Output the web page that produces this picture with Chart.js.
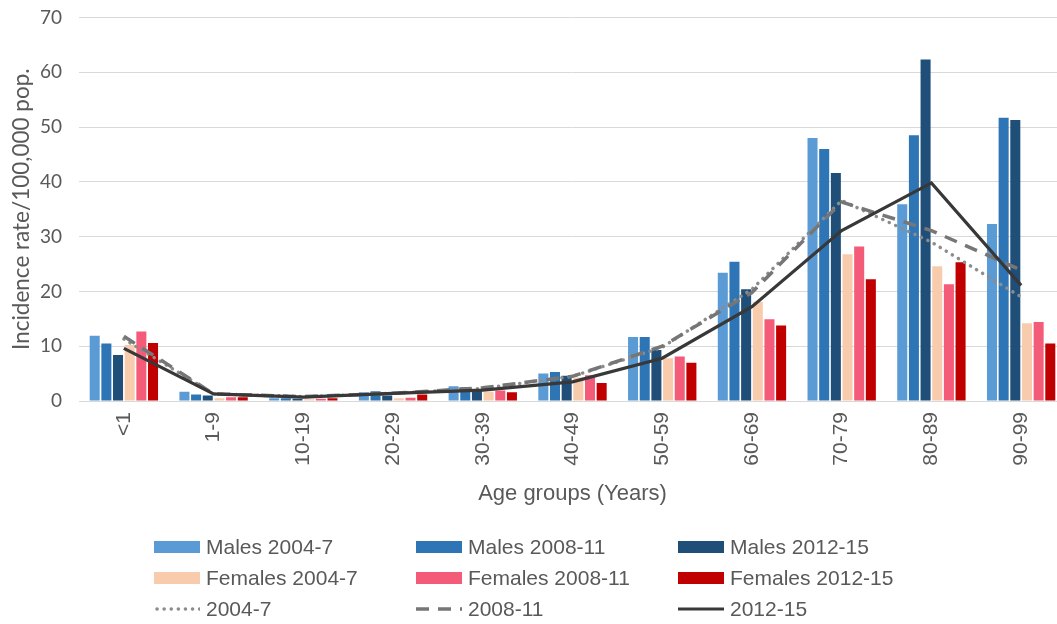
<!DOCTYPE html>
<html>
<head>
<meta charset="utf-8">
<script src="https://cdn.jsdelivr.net/npm/chart.js@4.4.1/dist/chart.umd.min.js"></script>
<style>
  html, body { margin: 0; padding: 0; background: #fff; overflow: hidden; width: 1057px; height: 624px; }
  #wrap { position: absolute; left: 0; top: -11px; width: 1075px; height: 520px; }
  #legend { position: absolute; left: 0; top: 0; width: 1057px; height: 624px; pointer-events: none; }
  .item { position: absolute; display: flex; align-items: center; height: 30px; font-family: "Liberation Sans", Arial, sans-serif; font-size: 21px; color: #595959; white-space: nowrap; }
  .sw { width: 46px; height: 12px; margin-right: 6px; }
</style>
</head>
<body>
<div id="wrap"><canvas id="c" width="1075" height="520"></canvas></div>
<div id="legend"></div>
<script>
const categories = ['<1','1-9','10-19','20-29','30-39','40-49','50-59','60-69','70-79','80-89','90-99'];
const males2004 = [11.9, 1.7, 0.5, 1.6, 2.7, 5.0, 11.7, 23.4, 48.0, 35.9, 32.3];
const males2008 = [10.5, 1.2, 0.5, 1.8, 2.5, 5.3, 11.7, 25.4, 46.0, 48.5, 51.7];
const males2012 = [8.4, 1.0, 0.4, 1.0, 2.1, 4.6, 9.3, 20.4, 41.6, 62.3, 51.3];
const females2004 = [10.2, 0.5, 0.3, 0.5, 1.7, 4.3, 7.8, 18.1, 26.8, 24.6, 14.2];
const females2008 = [12.7, 0.7, 0.4, 0.6, 1.9, 4.7, 8.1, 14.9, 28.2, 21.3, 14.4];
const females2012 = [10.6, 0.7, 0.5, 1.2, 1.6, 3.3, 7.0, 13.8, 22.2, 25.3, 10.5];
const total2004 = [11.3, 1.3, 0.8, 1.4, 2.3, 4.5, 9.8, 20.4, 36.6, 29.0, 19.0];
const total2008 = [11.8, 1.3, 0.8, 1.4, 2.4, 4.5, 10.0, 19.8, 36.3, 31.1, 23.9];
const total2012 = [9.6, 1.3, 0.7, 1.4, 2.0, 3.5, 7.8, 17.2, 31.1, 39.8, 21.1];
const yTicks = [0, 10, 20, 30, 40, 50, 60, 70];

const barCommon = { type: 'bar', order: 3, barPercentage: 0.86, categoryPercentage: 0.78, borderWidth: 0 };
const datasets = [
  { ...barCommon, label: 'Males 2004-7', data: males2004, backgroundColor: '#5B9BD5' },
  { ...barCommon, label: 'Males 2008-11', data: males2008, backgroundColor: '#2E75B6' },
  { ...barCommon, label: 'Males 2012-15', data: males2012, backgroundColor: '#1F4E79' },
  { ...barCommon, label: 'Females 2004-7', data: females2004, backgroundColor: '#F8CBAD' },
  { ...barCommon, label: 'Females 2008-11', data: females2008, backgroundColor: '#F45B78' },
  { ...barCommon, label: 'Females 2012-15', data: females2012, backgroundColor: '#C00000' },
  { type: 'line', order: 2, label: '2004-7', data: total2004, borderColor: '#8C8C8C', borderWidth: 3.5, borderDash: [0.1, 7], borderCapStyle: 'round', pointRadius: 0, tension: 0, fill: false },
  { type: 'line', order: 1, label: '2008-11', data: total2008, borderColor: '#767676', borderWidth: 3.5, borderDash: [13, 9], borderCapStyle: 'butt', pointRadius: 0, tension: 0, fill: false },
  { type: 'line', order: 0, label: '2012-15', data: total2012, borderColor: '#383838', borderWidth: 3.2, pointRadius: 0, tension: 0, fill: false }
];

const chart = new Chart(document.getElementById('c'), {
  data: { labels: categories, datasets },
  options: {
    responsive: false,
    animation: false,
    devicePixelRatio: 1,
    layout: { padding: { top: 7, right: 9, left: 0, bottom: 0 } },
    plugins: { legend: { display: false }, tooltip: { enabled: false } },
    scales: {
      x: {
        grid: { display: false, drawTicks: false },
        border: { display: true, color: '#D9D9D9', width: 1 },
        ticks: { color: '#595959', font: { family: '"Liberation Sans", Arial, sans-serif', size: 21 }, minRotation: 90, maxRotation: 90, padding: 11, autoSkip: false },
        title: { display: true, text: 'Age groups (Years)', color: '#595959', font: { family: '"Liberation Sans", Arial, sans-serif', size: 22 }, padding: { top: 0, bottom: 2 } },
        afterFit: (s) => { s.height = 520 - 412; }
      },
      y: {
        min: 0, max: 70,
        afterBuildTicks: (s) => { s.ticks = yTicks.map(v => ({ value: v })); },
        grid: { color: '#D9D9D9', lineWidth: 1, drawTicks: false },
        border: { display: false },
        ticks: { color: '#595959', font: { family: 'Lato, "Open Sans", sans-serif', size: 19 }, padding: 17 },
        title: { display: true, text: 'Incidence rate/100,000 pop.', color: '#595959', font: { family: 'Lato, "Open Sans", sans-serif', size: 22.5 }, padding: { top: 8, bottom: 0 } },
        afterFit: (s) => { s.width = 79; }
      }
    }
  }
});

// HTML legend built from the chart's datasets (3 columns x 3 rows)
const colX = [154, 416, 678];
const rowY = [547, 578, 609];
const legend = document.getElementById('legend');
chart.data.datasets.forEach((ds, i) => {
  const col = i % 3, row = Math.floor(i / 3);
  const item = document.createElement('div');
  item.className = 'item';
  item.style.left = colX[col] + 'px';
  item.style.top = (rowY[row] - 15) + 'px';
  let sw;
  if (ds.type === 'bar') {
    sw = document.createElement('div');
    sw.className = 'sw';
    sw.style.background = ds.backgroundColor;
  } else {
    sw = document.createElementNS('http://www.w3.org/2000/svg', 'svg');
    sw.setAttribute('width', '46'); sw.setAttribute('height', '12');
    sw.style.marginRight = '6px';
    const ln = document.createElementNS('http://www.w3.org/2000/svg', 'line');
    ln.setAttribute('x1', ds.borderDash && ds.borderDash[0] < 1 ? '3' : '0');
    ln.setAttribute('x2', '46'); ln.setAttribute('y1', '6'); ln.setAttribute('y2', '6');
    ln.setAttribute('stroke', ds.borderColor);
    ln.setAttribute('stroke-width', ds.borderWidth);
    if (ds.borderDash) {
      ln.setAttribute('stroke-dasharray', ds.borderDash.join(' '));
      ln.setAttribute('stroke-linecap', ds.borderCapStyle || 'butt');
    }
    sw.appendChild(ln);
  }
  item.appendChild(sw);
  const t = document.createElement('span');
  t.textContent = ds.label;
  item.appendChild(t);
  legend.appendChild(item);
});
</script>
</body>
</html>
